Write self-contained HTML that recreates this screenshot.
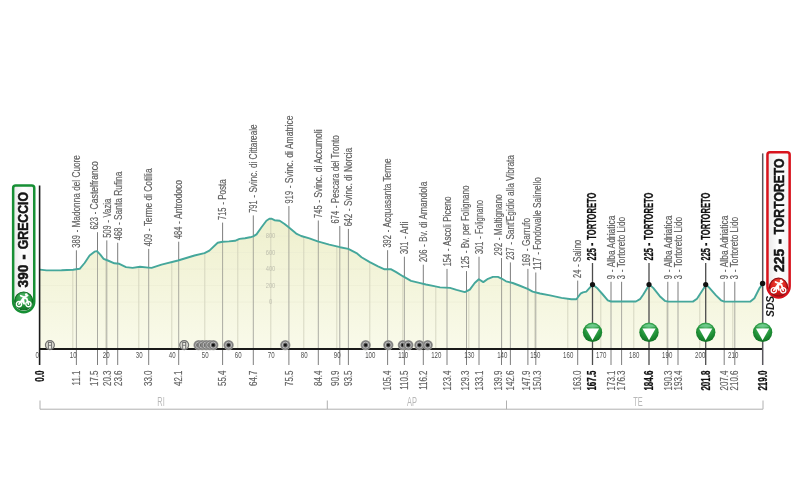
<!DOCTYPE html>
<html lang="it"><head><meta charset="utf-8"><title>Greccio - Tortoreto</title>
<style>html,body{margin:0;padding:0;background:#fff;}body{width:800px;height:484px;overflow:hidden;}svg{display:block;filter:blur(0.45px);}text{font-family:'Liberation Sans', Arial, Helvetica, sans-serif;}.lb{font-size:11px;fill:#606060;stroke:#606060;stroke-width:0.18px;}.lbb{font-size:12px;fill:#111;font-weight:bold;stroke:#111;stroke-width:0.3px;}.km{font-size:11px;fill:#626262;stroke:#626262;stroke-width:0.18px;}.kmb{font-size:12px;fill:#111;font-weight:bold;stroke:#111;stroke-width:0.25px;}.ax{font-size:9.5px;fill:#505050;}.el{font-size:6.6px;fill:#9e9e94;}.pv{font-size:12px;fill:#b9b9b9;}</style></head><body>
<svg width="800" height="484" viewBox="0 0 800 484">
<defs>
<radialGradient id="gG" cx="0.5" cy="0.3" r="0.75"><stop offset="0" stop-color="#5fc079"/><stop offset="0.6" stop-color="#1f9136"/><stop offset="1" stop-color="#0f6a22"/></radialGradient>
<radialGradient id="gR" cx="0.5" cy="0.3" r="0.75"><stop offset="0" stop-color="#f0503a"/><stop offset="0.6" stop-color="#d81a1a"/><stop offset="1" stop-color="#a80d10"/></radialGradient>
<radialGradient id="gT" cx="0.5" cy="0.5" r="0.5"><stop offset="0" stop-color="#333"/><stop offset="0.4" stop-color="#666"/><stop offset="0.75" stop-color="#7c7c7c"/><stop offset="1" stop-color="#9c9c96"/></radialGradient>
<linearGradient id="gBox" x1="0" y1="0" x2="1" y2="0"><stop offset="0" stop-color="#e9e9e9"/><stop offset="0.5" stop-color="#ffffff"/><stop offset="1" stop-color="#f2f2f2"/></linearGradient>
<linearGradient id="gF" gradientUnits="userSpaceOnUse" x1="0" y1="225" x2="0" y2="349"><stop offset="0" stop-color="#eff0cf"/><stop offset="1" stop-color="#f9faea"/></linearGradient>
</defs>
<rect width="800" height="484" fill="#ffffff"/>
<polygon points="40.0,269.6 46.6,270.4 61.5,270.2 73.0,269.7 79.7,268.8 84.6,263.0 89.6,255.5 94.5,251.7 97.0,251.1 100.3,254.7 103.6,258.8 107.8,260.5 114.4,263.3 119.3,263.8 126.0,267.1 132.6,267.9 140.0,266.8 148.3,267.6 151.6,267.9 161.5,264.6 178.0,260.5 194.5,255.5 204.5,253.1 209.4,250.6 217.7,242.8 222.6,241.8 229.0,241.4 235.0,240.8 239.5,238.9 245.0,238.2 250.0,237.3 253.2,236.4 256.5,234.4 261.5,227.3 266.4,220.7 269.4,218.8 271.4,218.7 274.5,220.2 279.7,220.7 284.6,224.0 289.6,228.1 296.2,233.6 301.2,236.0 309.4,238.3 317.7,241.3 329.3,244.6 340.0,247.2 348.3,248.9 356.5,253.1 361.5,257.2 369.8,262.1 378.0,266.3 384.6,269.3 391.2,269.3 396.2,272.1 402.8,276.2 411.0,280.8 419.3,282.8 426.0,284.5 434.2,286.1 440.0,287.4 450.0,287.9 456.5,289.9 464.8,292.1 469.8,289.6 474.7,283.0 478.8,279.2 483.3,282.1 488.0,278.8 492.9,276.9 497.9,276.9 502.0,278.8 506.0,281.3 512.7,283.0 519.3,285.5 527.6,288.8 532.6,291.6 540.0,293.5 550.0,295.4 561.5,297.9 571.4,299.2 576.4,299.2 580.5,293.7 583.0,292.4 586.3,291.6 589.6,287.9 592.7,284.6 597.0,287.9 602.8,294.5 607.8,300.3 611.0,301.5 635.9,301.5 640.0,299.2 643.3,294.5 649.4,284.6 653.2,287.9 659.8,296.2 664.8,300.8 668.1,301.6 692.9,301.6 697.0,298.7 706.2,284.6 709.4,287.9 716.0,295.4 721.0,300.3 724.3,301.6 750.4,301.6 754.4,298.3 759.7,287.8 763.0,283.6 763,349.0 40,349.0" fill="url(#gF)"/>
<clipPath id="cp"><polygon points="40.0,269.6 46.6,270.4 61.5,270.2 73.0,269.7 79.7,268.8 84.6,263.0 89.6,255.5 94.5,251.7 97.0,251.1 100.3,254.7 103.6,258.8 107.8,260.5 114.4,263.3 119.3,263.8 126.0,267.1 132.6,267.9 140.0,266.8 148.3,267.6 151.6,267.9 161.5,264.6 178.0,260.5 194.5,255.5 204.5,253.1 209.4,250.6 217.7,242.8 222.6,241.8 229.0,241.4 235.0,240.8 239.5,238.9 245.0,238.2 250.0,237.3 253.2,236.4 256.5,234.4 261.5,227.3 266.4,220.7 269.4,218.8 271.4,218.7 274.5,220.2 279.7,220.7 284.6,224.0 289.6,228.1 296.2,233.6 301.2,236.0 309.4,238.3 317.7,241.3 329.3,244.6 340.0,247.2 348.3,248.9 356.5,253.1 361.5,257.2 369.8,262.1 378.0,266.3 384.6,269.3 391.2,269.3 396.2,272.1 402.8,276.2 411.0,280.8 419.3,282.8 426.0,284.5 434.2,286.1 440.0,287.4 450.0,287.9 456.5,289.9 464.8,292.1 469.8,289.6 474.7,283.0 478.8,279.2 483.3,282.1 488.0,278.8 492.9,276.9 497.9,276.9 502.0,278.8 506.0,281.3 512.7,283.0 519.3,285.5 527.6,288.8 532.6,291.6 540.0,293.5 550.0,295.4 561.5,297.9 571.4,299.2 576.4,299.2 580.5,293.7 583.0,292.4 586.3,291.6 589.6,287.9 592.7,284.6 597.0,287.9 602.8,294.5 607.8,300.3 611.0,301.5 635.9,301.5 640.0,299.2 643.3,294.5 649.4,284.6 653.2,287.9 659.8,296.2 664.8,300.8 668.1,301.6 692.9,301.6 697.0,298.7 706.2,284.6 709.4,287.9 716.0,295.4 721.0,300.3 724.3,301.6 750.4,301.6 754.4,298.3 759.7,287.8 763.0,283.6 763,349.0 40,349.0"/></clipPath>
<g clip-path="url(#cp)" stroke="#e9ead0" stroke-width="0.8">
<line x1="40" x2="763" y1="302.0" y2="302.0"/>
<line x1="40" x2="763" y1="285.5" y2="285.5"/>
<line x1="40" x2="763" y1="269.0" y2="269.0"/>
<line x1="40" x2="763" y1="252.5" y2="252.5"/>
<line x1="40" x2="763" y1="236.0" y2="236.0"/>
</g>
<g clip-path="url(#cp)" stroke="#c3c3ae" stroke-width="1">
<line x1="72.8" x2="72.8" y1="200" y2="349.0"/>
<line x1="105.8" x2="105.8" y1="200" y2="349.0"/>
<line x1="138.8" x2="138.8" y1="200" y2="349.0"/>
<line x1="171.8" x2="171.8" y1="200" y2="349.0"/>
<line x1="204.8" x2="204.8" y1="200" y2="349.0"/>
<line x1="237.8" x2="237.8" y1="200" y2="349.0"/>
<line x1="270.8" x2="270.8" y1="200" y2="349.0"/>
<line x1="303.8" x2="303.8" y1="200" y2="349.0"/>
<line x1="336.8" x2="336.8" y1="200" y2="349.0"/>
<line x1="369.8" x2="369.8" y1="200" y2="349.0"/>
<line x1="402.8" x2="402.8" y1="200" y2="349.0"/>
<line x1="435.8" x2="435.8" y1="200" y2="349.0"/>
<line x1="468.8" x2="468.8" y1="200" y2="349.0"/>
<line x1="501.8" x2="501.8" y1="200" y2="349.0"/>
<line x1="534.8" x2="534.8" y1="200" y2="349.0"/>
<line x1="567.8" x2="567.8" y1="200" y2="349.0"/>
<line x1="600.8" x2="600.8" y1="200" y2="349.0"/>
<line x1="633.8" x2="633.8" y1="200" y2="349.0"/>
<line x1="666.8" x2="666.8" y1="200" y2="349.0"/>
<line x1="699.8" x2="699.8" y1="200" y2="349.0"/>
<line x1="732.8" x2="732.8" y1="200" y2="349.0"/>
</g>
<text class="el" text-anchor="middle" transform="translate(270.5 304.4) scale(0.88 1)">0</text>
<text class="el" text-anchor="middle" transform="translate(270.5 287.9) scale(0.88 1)">200</text>
<text class="el" text-anchor="middle" transform="translate(270.5 271.4) scale(0.88 1)">400</text>
<text class="el" text-anchor="middle" transform="translate(270.5 254.9) scale(0.88 1)">600</text>
<text class="el" text-anchor="middle" transform="translate(270.5 238.4) scale(0.88 1)">800</text>
<line x1="76.4" x2="76.4" y1="250.3" y2="365.0" stroke="#6e6e6e" stroke-width="0.9"/>
<line x1="97.5" x2="97.5" y1="232.2" y2="365.0" stroke="#6e6e6e" stroke-width="0.9"/>
<line x1="106.8" x2="106.8" y1="240.4" y2="365.0" stroke="#6e6e6e" stroke-width="0.9"/>
<line x1="117.7" x2="117.7" y1="242.8" y2="365.0" stroke="#6e6e6e" stroke-width="0.9"/>
<line x1="148.7" x2="148.7" y1="248.9" y2="365.0" stroke="#6e6e6e" stroke-width="0.9"/>
<line x1="178.7" x2="178.7" y1="241.7" y2="365.0" stroke="#6e6e6e" stroke-width="0.9"/>
<line x1="222.6" x2="222.6" y1="222.6" y2="365.0" stroke="#6e6e6e" stroke-width="0.9"/>
<line x1="253.3" x2="253.3" y1="215.4" y2="365.0" stroke="#6e6e6e" stroke-width="0.9"/>
<line x1="288.9" x2="288.9" y1="206.0" y2="365.0" stroke="#6e6e6e" stroke-width="0.9"/>
<line x1="318.3" x2="318.3" y1="220.5" y2="365.0" stroke="#6e6e6e" stroke-width="0.9"/>
<line x1="339.8" x2="339.8" y1="226.0" y2="365.0" stroke="#6e6e6e" stroke-width="0.9"/>
<line x1="348.4" x2="348.4" y1="228.9" y2="365.0" stroke="#6e6e6e" stroke-width="0.9"/>
<line x1="387.6" x2="387.6" y1="250.2" y2="365.0" stroke="#6e6e6e" stroke-width="0.9"/>
<line x1="404.4" x2="404.4" y1="256.7" y2="365.0" stroke="#6e6e6e" stroke-width="0.9"/>
<line x1="423.3" x2="423.3" y1="264.7" y2="365.0" stroke="#6e6e6e" stroke-width="0.9"/>
<line x1="447.0" x2="447.0" y1="268.9" y2="365.0" stroke="#6e6e6e" stroke-width="0.9"/>
<line x1="466.5" x2="466.5" y1="271.1" y2="365.0" stroke="#6e6e6e" stroke-width="0.9"/>
<line x1="479.0" x2="479.0" y1="256.7" y2="365.0" stroke="#6e6e6e" stroke-width="0.9"/>
<line x1="501.5" x2="501.5" y1="258.0" y2="365.0" stroke="#6e6e6e" stroke-width="0.9"/>
<line x1="510.4" x2="510.4" y1="262.4" y2="365.0" stroke="#6e6e6e" stroke-width="0.9"/>
<line x1="527.9" x2="527.9" y1="268.9" y2="365.0" stroke="#6e6e6e" stroke-width="0.9"/>
<line x1="535.8" x2="535.8" y1="272.5" y2="365.0" stroke="#6e6e6e" stroke-width="0.9"/>
<line x1="577.7" x2="577.7" y1="280.6" y2="365.0" stroke="#6e6e6e" stroke-width="0.9"/>
<line x1="611.0" x2="611.0" y1="281.8" y2="365.0" stroke="#6e6e6e" stroke-width="0.9"/>
<line x1="621.6" x2="621.6" y1="281.8" y2="365.0" stroke="#6e6e6e" stroke-width="0.9"/>
<line x1="667.8" x2="667.8" y1="281.8" y2="365.0" stroke="#6e6e6e" stroke-width="0.9"/>
<line x1="678.0" x2="678.0" y1="281.8" y2="365.0" stroke="#6e6e6e" stroke-width="0.9"/>
<line x1="724.2" x2="724.2" y1="281.8" y2="365.0" stroke="#6e6e6e" stroke-width="0.9"/>
<line x1="734.8" x2="734.8" y1="281.8" y2="365.0" stroke="#6e6e6e" stroke-width="0.9"/>
<polygon points="40.0,269.6 46.6,270.4 61.5,270.2 73.0,269.7 79.7,268.8 84.6,263.0 89.6,255.5 94.5,251.7 97.0,251.1 100.3,254.7 103.6,258.8 107.8,260.5 114.4,263.3 119.3,263.8 126.0,267.1 132.6,267.9 140.0,266.8 148.3,267.6 151.6,267.9 161.5,264.6 178.0,260.5 194.5,255.5 204.5,253.1 209.4,250.6 217.7,242.8 222.6,241.8 229.0,241.4 235.0,240.8 239.5,238.9 245.0,238.2 250.0,237.3 253.2,236.4 256.5,234.4 261.5,227.3 266.4,220.7 269.4,218.8 271.4,218.7 274.5,220.2 279.7,220.7 284.6,224.0 289.6,228.1 296.2,233.6 301.2,236.0 309.4,238.3 317.7,241.3 329.3,244.6 340.0,247.2 348.3,248.9 356.5,253.1 361.5,257.2 369.8,262.1 378.0,266.3 384.6,269.3 391.2,269.3 396.2,272.1 402.8,276.2 411.0,280.8 419.3,282.8 426.0,284.5 434.2,286.1 440.0,287.4 450.0,287.9 456.5,289.9 464.8,292.1 469.8,289.6 474.7,283.0 478.8,279.2 483.3,282.1 488.0,278.8 492.9,276.9 497.9,276.9 502.0,278.8 506.0,281.3 512.7,283.0 519.3,285.5 527.6,288.8 532.6,291.6 540.0,293.5 550.0,295.4 561.5,297.9 571.4,299.2 576.4,299.2 580.5,293.7 583.0,292.4 586.3,291.6 589.6,287.9 592.7,284.6 597.0,287.9 602.8,294.5 607.8,300.3 611.0,301.5 635.9,301.5 640.0,299.2 643.3,294.5 649.4,284.6 653.2,287.9 659.8,296.2 664.8,300.8 668.1,301.6 692.9,301.6 697.0,298.7 706.2,284.6 709.4,287.9 716.0,295.4 721.0,300.3 724.3,301.6 750.4,301.6 754.4,298.3 759.7,287.8 763.0,283.6 763,348.5 40,348.5" fill="url(#gF)" fill-opacity="0.38"/>
<line x1="592.5" x2="592.5" y1="263.0" y2="365.0" stroke="#4c4c4c" stroke-width="1.3"/>
<line x1="649.0" x2="649.0" y1="263.0" y2="365.0" stroke="#4c4c4c" stroke-width="1.3"/>
<line x1="705.7" x2="705.7" y1="263.0" y2="365.0" stroke="#4c4c4c" stroke-width="1.3"/>
<polyline points="40.0,269.6 46.6,270.4 61.5,270.2 73.0,269.7 79.7,268.8 84.6,263.0 89.6,255.5 94.5,251.7 97.0,251.1 100.3,254.7 103.6,258.8 107.8,260.5 114.4,263.3 119.3,263.8 126.0,267.1 132.6,267.9 140.0,266.8 148.3,267.6 151.6,267.9 161.5,264.6 178.0,260.5 194.5,255.5 204.5,253.1 209.4,250.6 217.7,242.8 222.6,241.8 229.0,241.4 235.0,240.8 239.5,238.9 245.0,238.2 250.0,237.3 253.2,236.4 256.5,234.4 261.5,227.3 266.4,220.7 269.4,218.8 271.4,218.7 274.5,220.2 279.7,220.7 284.6,224.0 289.6,228.1 296.2,233.6 301.2,236.0 309.4,238.3 317.7,241.3 329.3,244.6 340.0,247.2 348.3,248.9 356.5,253.1 361.5,257.2 369.8,262.1 378.0,266.3 384.6,269.3 391.2,269.3 396.2,272.1 402.8,276.2 411.0,280.8 419.3,282.8 426.0,284.5 434.2,286.1 440.0,287.4 450.0,287.9 456.5,289.9 464.8,292.1 469.8,289.6 474.7,283.0 478.8,279.2 483.3,282.1 488.0,278.8 492.9,276.9 497.9,276.9 502.0,278.8 506.0,281.3 512.7,283.0 519.3,285.5 527.6,288.8 532.6,291.6 540.0,293.5 550.0,295.4 561.5,297.9 571.4,299.2 576.4,299.2 580.5,293.7 583.0,292.4 586.3,291.6 589.6,287.9 592.7,284.6 597.0,287.9 602.8,294.5 607.8,300.3 611.0,301.5 635.9,301.5 640.0,299.2 643.3,294.5 649.4,284.6 653.2,287.9 659.8,296.2 664.8,300.8 668.1,301.6 692.9,301.6 697.0,298.7 706.2,284.6 709.4,287.9 716.0,295.4 721.0,300.3 724.3,301.6 750.4,301.6 754.4,298.3 759.7,287.8 763.0,283.6" fill="none" stroke="#45a79b" stroke-width="1.9" stroke-linejoin="round" stroke-linecap="round"/>
<line x1="39.2" x2="763" y1="349.0" y2="349.0" stroke="#1a1a1a" stroke-width="1.8"/>
<line x1="39.6" x2="39.6" y1="185.5" y2="365.0" stroke="#1a1a1a" stroke-width="1.6"/>
<line x1="762.7" x2="762.7" y1="153.4" y2="365.0" stroke="#58565c" stroke-width="1.5"/>
<g transform="translate(49.9,345.1)"><circle r="4.5" fill="#d4d4cc" stroke="#707070" stroke-width="1.1"/><rect x="-1.5" y="-2.6" width="3" height="6.6" fill="#eeeee6" stroke="#6a6a6a" stroke-width="0.9"/><line x1="-1.5" x2="1.5" y1="0.2" y2="0.2" stroke="#6a6a6a" stroke-width="0.8"/></g>
<g transform="translate(184.2,345.1)"><circle r="4.5" fill="#d4d4cc" stroke="#707070" stroke-width="1.1"/><rect x="-1.5" y="-2.6" width="3" height="6.6" fill="#eeeee6" stroke="#6a6a6a" stroke-width="0.9"/><line x1="-1.5" x2="1.5" y1="0.2" y2="0.2" stroke="#6a6a6a" stroke-width="0.8"/></g>
<g transform="translate(198.6,345.1)"><circle r="5.2" fill="url(#gT)"/><circle r="3" fill="none" stroke="#cfcfcf" stroke-width="0.8"/><rect x="-1.2" y="-1.2" width="2.4" height="2.4" fill="#101010"/></g>
<g transform="translate(202.4,345.1)"><circle r="5.2" fill="url(#gT)"/><circle r="3" fill="none" stroke="#cfcfcf" stroke-width="0.8"/><rect x="-1.2" y="-1.2" width="2.4" height="2.4" fill="#101010"/></g>
<g transform="translate(206.2,345.1)"><circle r="5.2" fill="url(#gT)"/><circle r="3" fill="none" stroke="#cfcfcf" stroke-width="0.8"/><rect x="-1.2" y="-1.2" width="2.4" height="2.4" fill="#101010"/></g>
<g transform="translate(209.8,345.1)"><circle r="5.2" fill="url(#gT)"/><circle r="3" fill="none" stroke="#cfcfcf" stroke-width="0.8"/><rect x="-1.2" y="-1.2" width="2.4" height="2.4" fill="#101010"/></g>
<g transform="translate(213.3,345.1)"><circle r="5.2" fill="url(#gT)"/><circle r="3" fill="none" stroke="#cfcfcf" stroke-width="0.8"/><rect x="-1.2" y="-1.2" width="2.4" height="2.4" fill="#101010"/></g>
<g transform="translate(228.6,345.1)"><circle r="5.2" fill="url(#gT)"/><circle r="3" fill="none" stroke="#cfcfcf" stroke-width="0.8"/><rect x="-1.2" y="-1.2" width="2.4" height="2.4" fill="#101010"/></g>
<g transform="translate(285.3,345.1)"><circle r="5.2" fill="url(#gT)"/><circle r="3" fill="none" stroke="#cfcfcf" stroke-width="0.8"/><rect x="-1.2" y="-1.2" width="2.4" height="2.4" fill="#101010"/></g>
<g transform="translate(365.7,345.1)"><circle r="5.2" fill="url(#gT)"/><circle r="3" fill="none" stroke="#cfcfcf" stroke-width="0.8"/><rect x="-1.2" y="-1.2" width="2.4" height="2.4" fill="#101010"/></g>
<g transform="translate(388.3,345.1)"><circle r="5.2" fill="url(#gT)"/><circle r="3" fill="none" stroke="#cfcfcf" stroke-width="0.8"/><rect x="-1.2" y="-1.2" width="2.4" height="2.4" fill="#101010"/></g>
<g transform="translate(402.9,345.1)"><circle r="5.2" fill="url(#gT)"/><circle r="3" fill="none" stroke="#cfcfcf" stroke-width="0.8"/><rect x="-1.2" y="-1.2" width="2.4" height="2.4" fill="#101010"/></g>
<g transform="translate(408.3,345.1)"><circle r="5.2" fill="url(#gT)"/><circle r="3" fill="none" stroke="#cfcfcf" stroke-width="0.8"/><rect x="-1.2" y="-1.2" width="2.4" height="2.4" fill="#101010"/></g>
<g transform="translate(419.4,345.1)"><circle r="5.2" fill="url(#gT)"/><circle r="3" fill="none" stroke="#cfcfcf" stroke-width="0.8"/><rect x="-1.2" y="-1.2" width="2.4" height="2.4" fill="#101010"/></g>
<g transform="translate(427.7,345.1)"><circle r="5.2" fill="url(#gT)"/><circle r="3" fill="none" stroke="#cfcfcf" stroke-width="0.8"/><rect x="-1.2" y="-1.2" width="2.4" height="2.4" fill="#101010"/></g>
<text class="ax" x="39" y="358.2" text-anchor="end" transform="translate(38.8 0) scale(0.64 1) translate(-38.8 0)">0</text>
<text class="ax" x="73.2" y="358.2" text-anchor="middle" transform="translate(73.2 0) scale(0.64 1) translate(-73.2 0)">10</text>
<text class="ax" x="106.2" y="358.2" text-anchor="middle" transform="translate(106.2 0) scale(0.64 1) translate(-106.2 0)">20</text>
<text class="ax" x="139.2" y="358.2" text-anchor="middle" transform="translate(139.2 0) scale(0.64 1) translate(-139.2 0)">30</text>
<text class="ax" x="172.2" y="358.2" text-anchor="middle" transform="translate(172.2 0) scale(0.64 1) translate(-172.2 0)">40</text>
<text class="ax" x="205.2" y="358.2" text-anchor="middle" transform="translate(205.2 0) scale(0.64 1) translate(-205.2 0)">50</text>
<text class="ax" x="238.2" y="358.2" text-anchor="middle" transform="translate(238.2 0) scale(0.64 1) translate(-238.2 0)">60</text>
<text class="ax" x="271.2" y="358.2" text-anchor="middle" transform="translate(271.2 0) scale(0.64 1) translate(-271.2 0)">70</text>
<text class="ax" x="304.2" y="358.2" text-anchor="middle" transform="translate(304.2 0) scale(0.64 1) translate(-304.2 0)">80</text>
<text class="ax" x="337.2" y="358.2" text-anchor="middle" transform="translate(337.2 0) scale(0.64 1) translate(-337.2 0)">90</text>
<text class="ax" x="370.2" y="358.2" text-anchor="middle" transform="translate(370.2 0) scale(0.64 1) translate(-370.2 0)">100</text>
<text class="ax" x="403.2" y="358.2" text-anchor="middle" transform="translate(403.2 0) scale(0.64 1) translate(-403.2 0)">110</text>
<text class="ax" x="436.2" y="358.2" text-anchor="middle" transform="translate(436.2 0) scale(0.64 1) translate(-436.2 0)">120</text>
<text class="ax" x="469.2" y="358.2" text-anchor="middle" transform="translate(469.2 0) scale(0.64 1) translate(-469.2 0)">130</text>
<text class="ax" x="502.2" y="358.2" text-anchor="middle" transform="translate(502.2 0) scale(0.64 1) translate(-502.2 0)">140</text>
<text class="ax" x="535.2" y="358.2" text-anchor="middle" transform="translate(535.2 0) scale(0.64 1) translate(-535.2 0)">150</text>
<text class="ax" x="568.2" y="358.2" text-anchor="middle" transform="translate(568.2 0) scale(0.64 1) translate(-568.2 0)">160</text>
<text class="ax" x="601.2" y="358.2" text-anchor="middle" transform="translate(601.2 0) scale(0.64 1) translate(-601.2 0)">170</text>
<text class="ax" x="634.2" y="358.2" text-anchor="middle" transform="translate(634.2 0) scale(0.64 1) translate(-634.2 0)">180</text>
<text class="ax" x="667.2" y="358.2" text-anchor="middle" transform="translate(667.2 0) scale(0.64 1) translate(-667.2 0)">190</text>
<text class="ax" x="700.2" y="358.2" text-anchor="middle" transform="translate(700.2 0) scale(0.64 1) translate(-700.2 0)">200</text>
<text class="ax" x="733.2" y="358.2" text-anchor="middle" transform="translate(733.2 0) scale(0.64 1) translate(-733.2 0)">210</text>
<text class="lb" transform="translate(79.7 247.7) rotate(-90)"><tspan x="0" textLength="12.5" lengthAdjust="spacingAndGlyphs">389</tspan> <tspan x="15.4" textLength="2.6" lengthAdjust="spacingAndGlyphs">-</tspan> <tspan x="20.2" textLength="72.4" lengthAdjust="spacingAndGlyphs">Madonna del Cuore</tspan></text>
<text class="lb" transform="translate(97.7 229.6) rotate(-90)"><tspan x="0" textLength="12.5" lengthAdjust="spacingAndGlyphs">623</tspan> <tspan x="15.4" textLength="2.6" lengthAdjust="spacingAndGlyphs">-</tspan> <tspan x="20.2" textLength="48.3" lengthAdjust="spacingAndGlyphs">Castelfranco</tspan></text>
<text class="lb" transform="translate(110.6 237.8) rotate(-90)"><tspan x="0" textLength="12.5" lengthAdjust="spacingAndGlyphs">509</tspan> <tspan x="15.4" textLength="2.6" lengthAdjust="spacingAndGlyphs">-</tspan> <tspan x="20.2" textLength="19.0" lengthAdjust="spacingAndGlyphs">Vazia</tspan></text>
<text class="lb" transform="translate(122.1 240.2) rotate(-90)"><tspan x="0" textLength="12.5" lengthAdjust="spacingAndGlyphs">468</tspan> <tspan x="15.4" textLength="2.6" lengthAdjust="spacingAndGlyphs">-</tspan> <tspan x="20.2" textLength="48.4" lengthAdjust="spacingAndGlyphs">Santa Rufina</tspan></text>
<text class="lb" transform="translate(152.3 246.3) rotate(-90)"><tspan x="0" textLength="12.5" lengthAdjust="spacingAndGlyphs">409</tspan> <tspan x="15.4" textLength="2.6" lengthAdjust="spacingAndGlyphs">-</tspan> <tspan x="20.2" textLength="57.7" lengthAdjust="spacingAndGlyphs">Terme di Cotilia</tspan></text>
<text class="lb" transform="translate(182.2 239.1) rotate(-90)"><tspan x="0" textLength="12.5" lengthAdjust="spacingAndGlyphs">484</tspan> <tspan x="15.4" textLength="2.6" lengthAdjust="spacingAndGlyphs">-</tspan> <tspan x="20.2" textLength="39.0" lengthAdjust="spacingAndGlyphs">Antrodoco</tspan></text>
<text class="lb" transform="translate(226.3 220.0) rotate(-90)"><tspan x="0" textLength="12.5" lengthAdjust="spacingAndGlyphs">715</tspan> <tspan x="15.4" textLength="2.6" lengthAdjust="spacingAndGlyphs">-</tspan> <tspan x="20.2" textLength="20.6" lengthAdjust="spacingAndGlyphs">Posta</tspan></text>
<text class="lb" transform="translate(257.0 212.8) rotate(-90)"><tspan x="0" textLength="12.5" lengthAdjust="spacingAndGlyphs">791</tspan> <tspan x="15.4" textLength="2.6" lengthAdjust="spacingAndGlyphs">-</tspan> <tspan x="20.2" textLength="68.2" lengthAdjust="spacingAndGlyphs">Svinc. di Cittareale</tspan></text>
<text class="lb" transform="translate(292.7 203.4) rotate(-90)"><tspan x="0" textLength="12.5" lengthAdjust="spacingAndGlyphs">919</tspan> <tspan x="15.4" textLength="2.6" lengthAdjust="spacingAndGlyphs">-</tspan> <tspan x="20.2" textLength="67.7" lengthAdjust="spacingAndGlyphs">Svinc. di Amatrice</tspan></text>
<text class="lb" transform="translate(322.0 217.9) rotate(-90)"><tspan x="0" textLength="12.5" lengthAdjust="spacingAndGlyphs">745</tspan> <tspan x="15.4" textLength="2.6" lengthAdjust="spacingAndGlyphs">-</tspan> <tspan x="20.2" textLength="68.3" lengthAdjust="spacingAndGlyphs">Svinc. di Accumoli</tspan></text>
<text class="lb" transform="translate(339.4 223.4) rotate(-90)"><tspan x="0" textLength="12.5" lengthAdjust="spacingAndGlyphs">674</tspan> <tspan x="15.4" textLength="2.6" lengthAdjust="spacingAndGlyphs">-</tspan> <tspan x="20.2" textLength="67.9" lengthAdjust="spacingAndGlyphs">Pescara del Tronto</tspan></text>
<text class="lb" transform="translate(352.1 226.3) rotate(-90)"><tspan x="0" textLength="12.5" lengthAdjust="spacingAndGlyphs">642</tspan> <tspan x="15.4" textLength="2.6" lengthAdjust="spacingAndGlyphs">-</tspan> <tspan x="20.2" textLength="58.2" lengthAdjust="spacingAndGlyphs">Svinc. di Norcia</tspan></text>
<text class="lb" transform="translate(391.3 247.6) rotate(-90)"><tspan x="0" textLength="12.5" lengthAdjust="spacingAndGlyphs">392</tspan> <tspan x="15.4" textLength="2.6" lengthAdjust="spacingAndGlyphs">-</tspan> <tspan x="20.2" textLength="68.9" lengthAdjust="spacingAndGlyphs">Acquasanta Terme</tspan></text>
<text class="lb" transform="translate(408.1 254.1) rotate(-90)"><tspan x="0" textLength="12.5" lengthAdjust="spacingAndGlyphs">301</tspan> <tspan x="15.4" textLength="2.6" lengthAdjust="spacingAndGlyphs">-</tspan> <tspan x="20.2" textLength="12.3" lengthAdjust="spacingAndGlyphs">Arli</tspan></text>
<text class="lb" transform="translate(426.9 262.1) rotate(-90)"><tspan x="0" textLength="12.5" lengthAdjust="spacingAndGlyphs">206</tspan> <tspan x="15.4" textLength="2.6" lengthAdjust="spacingAndGlyphs">-</tspan> <tspan x="20.2" textLength="60.3" lengthAdjust="spacingAndGlyphs">Bv. di Amandola</tspan></text>
<text class="lb" transform="translate(450.6 266.3) rotate(-90)"><tspan x="0" textLength="12.5" lengthAdjust="spacingAndGlyphs">154</tspan> <tspan x="15.4" textLength="2.6" lengthAdjust="spacingAndGlyphs">-</tspan> <tspan x="20.2" textLength="49.6" lengthAdjust="spacingAndGlyphs">Ascoli Piceno</tspan></text>
<text class="lb" transform="translate(469.1 268.5) rotate(-90)"><tspan x="0" textLength="12.5" lengthAdjust="spacingAndGlyphs">125</tspan> <tspan x="15.4" textLength="2.6" lengthAdjust="spacingAndGlyphs">-</tspan> <tspan x="20.2" textLength="62.7" lengthAdjust="spacingAndGlyphs">Bv. per Folignano</tspan></text>
<text class="lb" transform="translate(483.0 254.1) rotate(-90)"><tspan x="0" textLength="12.5" lengthAdjust="spacingAndGlyphs">301</tspan> <tspan x="15.4" textLength="2.6" lengthAdjust="spacingAndGlyphs">-</tspan> <tspan x="20.2" textLength="34.1" lengthAdjust="spacingAndGlyphs">Folignano</tspan></text>
<text class="lb" transform="translate(501.7 255.4) rotate(-90)"><tspan x="0" textLength="12.5" lengthAdjust="spacingAndGlyphs">292</tspan> <tspan x="15.4" textLength="2.6" lengthAdjust="spacingAndGlyphs">-</tspan> <tspan x="20.2" textLength="41.0" lengthAdjust="spacingAndGlyphs">Maltignano</tspan></text>
<text class="lb" transform="translate(513.7 259.8) rotate(-90)"><tspan x="0" textLength="12.5" lengthAdjust="spacingAndGlyphs">237</tspan> <tspan x="15.4" textLength="2.6" lengthAdjust="spacingAndGlyphs">-</tspan> <tspan x="20.2" textLength="84.5" lengthAdjust="spacingAndGlyphs">Sant'Egidio alla Vibrata</tspan></text>
<text class="lb" transform="translate(529.9 266.3) rotate(-90)"><tspan x="0" textLength="12.5" lengthAdjust="spacingAndGlyphs">169</tspan> <tspan x="15.4" textLength="2.6" lengthAdjust="spacingAndGlyphs">-</tspan> <tspan x="20.2" textLength="28.1" lengthAdjust="spacingAndGlyphs">Garrufo</tspan></text>
<text class="lb" transform="translate(541.2 269.9) rotate(-90)"><tspan x="0" textLength="12.5" lengthAdjust="spacingAndGlyphs">117</tspan> <tspan x="15.4" textLength="2.6" lengthAdjust="spacingAndGlyphs">-</tspan> <tspan x="20.2" textLength="72.4" lengthAdjust="spacingAndGlyphs">Fondovalle Salinello</tspan></text>
<text class="lb" transform="translate(581.3 278.0) rotate(-90)"><tspan x="0" textLength="8.3" lengthAdjust="spacingAndGlyphs">24</tspan> <tspan x="11.2" textLength="2.6" lengthAdjust="spacingAndGlyphs">-</tspan> <tspan x="16.1" textLength="22.2" lengthAdjust="spacingAndGlyphs">Salino</tspan></text>
<text class="lbb" transform="translate(596.4 260.4) rotate(-90)"><tspan x="0" textLength="12.3" lengthAdjust="spacingAndGlyphs">225</tspan> <tspan x="14.3" textLength="3.3" lengthAdjust="spacingAndGlyphs">-</tspan> <tspan x="20.7" textLength="47.1" lengthAdjust="spacingAndGlyphs">TORTORETO</tspan></text>
<text class="lb" transform="translate(615.0 279.2) rotate(-90)"><tspan x="0" textLength="4.2" lengthAdjust="spacingAndGlyphs">9</tspan> <tspan x="7.1" textLength="2.6" lengthAdjust="spacingAndGlyphs">-</tspan> <tspan x="11.9" textLength="51.7" lengthAdjust="spacingAndGlyphs">Alba Adriatica</tspan></text>
<text class="lb" transform="translate(625.2 279.2) rotate(-90)"><tspan x="0" textLength="4.2" lengthAdjust="spacingAndGlyphs">3</tspan> <tspan x="7.1" textLength="2.6" lengthAdjust="spacingAndGlyphs">-</tspan> <tspan x="11.9" textLength="50.4" lengthAdjust="spacingAndGlyphs">Tortoreto Lido</tspan></text>
<text class="lbb" transform="translate(653.1 260.4) rotate(-90)"><tspan x="0" textLength="12.3" lengthAdjust="spacingAndGlyphs">225</tspan> <tspan x="14.3" textLength="3.3" lengthAdjust="spacingAndGlyphs">-</tspan> <tspan x="20.7" textLength="47.1" lengthAdjust="spacingAndGlyphs">TORTORETO</tspan></text>
<text class="lb" transform="translate(671.7 279.2) rotate(-90)"><tspan x="0" textLength="4.2" lengthAdjust="spacingAndGlyphs">9</tspan> <tspan x="7.1" textLength="2.6" lengthAdjust="spacingAndGlyphs">-</tspan> <tspan x="11.9" textLength="51.7" lengthAdjust="spacingAndGlyphs">Alba Adriatica</tspan></text>
<text class="lb" transform="translate(681.7 279.2) rotate(-90)"><tspan x="0" textLength="4.2" lengthAdjust="spacingAndGlyphs">3</tspan> <tspan x="7.1" textLength="2.6" lengthAdjust="spacingAndGlyphs">-</tspan> <tspan x="11.9" textLength="50.4" lengthAdjust="spacingAndGlyphs">Tortoreto Lido</tspan></text>
<text class="lbb" transform="translate(709.7 260.4) rotate(-90)"><tspan x="0" textLength="12.3" lengthAdjust="spacingAndGlyphs">225</tspan> <tspan x="14.3" textLength="3.3" lengthAdjust="spacingAndGlyphs">-</tspan> <tspan x="20.7" textLength="47.1" lengthAdjust="spacingAndGlyphs">TORTORETO</tspan></text>
<text class="lb" transform="translate(727.9 279.2) rotate(-90)"><tspan x="0" textLength="4.2" lengthAdjust="spacingAndGlyphs">9</tspan> <tspan x="7.1" textLength="2.6" lengthAdjust="spacingAndGlyphs">-</tspan> <tspan x="11.9" textLength="51.7" lengthAdjust="spacingAndGlyphs">Alba Adriatica</tspan></text>
<text class="lb" transform="translate(737.9 279.2) rotate(-90)"><tspan x="0" textLength="4.2" lengthAdjust="spacingAndGlyphs">3</tspan> <tspan x="7.1" textLength="2.6" lengthAdjust="spacingAndGlyphs">-</tspan> <tspan x="11.9" textLength="50.4" lengthAdjust="spacingAndGlyphs">Tortoreto Lido</tspan></text>
<text class="kmb" text-anchor="end" transform="translate(44.1 370.5) rotate(-90) scale(0.670 1)">0.0</text>
<text class="km" text-anchor="end" transform="translate(79.7 370.5) rotate(-90) scale(0.725 1)">11.1</text>
<text class="km" text-anchor="end" transform="translate(97.7 370.5) rotate(-90) scale(0.725 1)">17.5</text>
<text class="km" text-anchor="end" transform="translate(110.6 370.5) rotate(-90) scale(0.725 1)">20.3</text>
<text class="km" text-anchor="end" transform="translate(122.1 370.5) rotate(-90) scale(0.725 1)">23.6</text>
<text class="km" text-anchor="end" transform="translate(152.3 370.5) rotate(-90) scale(0.725 1)">33.0</text>
<text class="km" text-anchor="end" transform="translate(182.2 370.5) rotate(-90) scale(0.725 1)">42.1</text>
<text class="km" text-anchor="end" transform="translate(226.3 370.5) rotate(-90) scale(0.725 1)">55.4</text>
<text class="km" text-anchor="end" transform="translate(257.0 370.5) rotate(-90) scale(0.725 1)">64.7</text>
<text class="km" text-anchor="end" transform="translate(292.7 370.5) rotate(-90) scale(0.725 1)">75.5</text>
<text class="km" text-anchor="end" transform="translate(322.0 370.5) rotate(-90) scale(0.725 1)">84.4</text>
<text class="km" text-anchor="end" transform="translate(339.4 370.5) rotate(-90) scale(0.725 1)">90.9</text>
<text class="km" text-anchor="end" transform="translate(352.1 370.5) rotate(-90) scale(0.725 1)">93.5</text>
<text class="km" text-anchor="end" transform="translate(391.3 370.5) rotate(-90) scale(0.725 1)">105.4</text>
<text class="km" text-anchor="end" transform="translate(408.1 370.5) rotate(-90) scale(0.725 1)">110.5</text>
<text class="km" text-anchor="end" transform="translate(426.9 370.5) rotate(-90) scale(0.725 1)">116.2</text>
<text class="km" text-anchor="end" transform="translate(450.6 370.5) rotate(-90) scale(0.725 1)">123.4</text>
<text class="km" text-anchor="end" transform="translate(469.1 370.5) rotate(-90) scale(0.725 1)">129.3</text>
<text class="km" text-anchor="end" transform="translate(483.0 370.5) rotate(-90) scale(0.725 1)">133.1</text>
<text class="km" text-anchor="end" transform="translate(501.7 370.5) rotate(-90) scale(0.725 1)">139.9</text>
<text class="km" text-anchor="end" transform="translate(513.7 370.5) rotate(-90) scale(0.725 1)">142.6</text>
<text class="km" text-anchor="end" transform="translate(529.9 370.5) rotate(-90) scale(0.725 1)">147.9</text>
<text class="km" text-anchor="end" transform="translate(541.2 370.5) rotate(-90) scale(0.725 1)">150.3</text>
<text class="km" text-anchor="end" transform="translate(581.3 370.5) rotate(-90) scale(0.725 1)">163.0</text>
<text class="kmb" text-anchor="end" transform="translate(596.4 370.5) rotate(-90) scale(0.670 1)">167.5</text>
<text class="km" text-anchor="end" transform="translate(615.0 370.5) rotate(-90) scale(0.725 1)">173.1</text>
<text class="km" text-anchor="end" transform="translate(625.2 370.5) rotate(-90) scale(0.725 1)">176.3</text>
<text class="kmb" text-anchor="end" transform="translate(653.1 370.5) rotate(-90) scale(0.670 1)">184.6</text>
<text class="km" text-anchor="end" transform="translate(671.7 370.5) rotate(-90) scale(0.725 1)">190.3</text>
<text class="km" text-anchor="end" transform="translate(681.7 370.5) rotate(-90) scale(0.725 1)">193.4</text>
<text class="kmb" text-anchor="end" transform="translate(709.7 370.5) rotate(-90) scale(0.670 1)">201.8</text>
<text class="km" text-anchor="end" transform="translate(727.9 370.5) rotate(-90) scale(0.725 1)">207.4</text>
<text class="km" text-anchor="end" transform="translate(737.9 370.5) rotate(-90) scale(0.725 1)">210.6</text>
<text class="kmb" text-anchor="end" transform="translate(766.8 370.5) rotate(-90) scale(0.670 1)">219.0</text>
<circle cx="592.5" cy="284.6" r="2.6" fill="#111"/>
<circle cx="649.0" cy="284.6" r="2.6" fill="#111"/>
<circle cx="705.7" cy="284.6" r="2.6" fill="#111"/>
<circle cx="762.6" cy="283.4" r="2.7" fill="#111"/>
<g transform="translate(592.5,332.3)"><circle r="9.7" fill="url(#gG)"/><path d="M-6.6,-3.9 L6.6,-3.9 L0,8 Z" fill="#ffffff"/><path d="M-6.5,-5.6 A 9 9 0 0 1 6.5,-5.6 Z" fill="#7fd6a0" opacity="0.7"/></g>
<g transform="translate(649.0,332.3)"><circle r="9.7" fill="url(#gG)"/><path d="M-6.6,-3.9 L6.6,-3.9 L0,8 Z" fill="#ffffff"/><path d="M-6.5,-5.6 A 9 9 0 0 1 6.5,-5.6 Z" fill="#7fd6a0" opacity="0.7"/></g>
<g transform="translate(705.7,332.3)"><circle r="9.7" fill="url(#gG)"/><path d="M-6.6,-3.9 L6.6,-3.9 L0,8 Z" fill="#ffffff"/><path d="M-6.5,-5.6 A 9 9 0 0 1 6.5,-5.6 Z" fill="#7fd6a0" opacity="0.7"/></g>
<g transform="translate(762.6,332.3)"><circle r="9.7" fill="url(#gG)"/><path d="M-6.6,-3.9 L6.6,-3.9 L0,8 Z" fill="#ffffff"/><path d="M-6.5,-5.6 A 9 9 0 0 1 6.5,-5.6 Z" fill="#7fd6a0" opacity="0.7"/></g>
<g fill="none" stroke="#b0b0b0" stroke-width="1">
<polyline points="40,400.5 40,409.2 763,409.2 763,400.5"/>
<line x1="327.3" x2="327.3" y1="400.5" y2="409.2"/>
<line x1="506.5" x2="506.5" y1="400.5" y2="409.2"/>
</g>
<text class="pv" text-anchor="middle" transform="translate(161.0 406.2) scale(0.62 1)">RI</text>
<text class="pv" text-anchor="middle" transform="translate(412.0 406.2) scale(0.62 1)">AP</text>
<text class="pv" text-anchor="middle" transform="translate(638.0 406.2) scale(0.62 1)">TE</text>
<path d="M13.15,188.05 Q13.15,185.55 15.65,185.55 L31.75,185.55 Q34.25,185.55 34.25,188.05 L34.25,301.60 A10.55,10.55 0 0 1 13.15,301.60 Z" fill="url(#gBox)" stroke="#168f34" stroke-width="2.5"/>
<circle cx="23.7" cy="301.0" r="9.0" fill="url(#gG)" stroke="#0c6a20" stroke-width="1.2"/>
<g transform="translate(23.7,301.0) scale(1.15)" fill="none" stroke="#fff" stroke-linecap="round" stroke-linejoin="round"><circle cx="-4.1" cy="2.7" r="2.3" stroke-width="1.2"/><circle cx="4.1" cy="2.7" r="2.3" stroke-width="1.2"/><path d="M-4.1,2.7 L-0.6,-2.2 L2.6,-2.2 L4.1,2.7 M-0.6,-2.2 L0.4,2.4 L-1.6,-0.4 M-2.6,-4.6 L0.4,-3.2 L3.4,-4.8" stroke-width="1.5"/><circle cx="2.2" cy="-5.6" r="1.1" fill="#fff" stroke="none"/></g>
<text transform="translate(28.1 287.4) rotate(-90) scale(0.911 1)" style="font-size:15px;font-weight:bold;fill:#151515;stroke:#151515;stroke-width:0.55px">390</text>
<text transform="translate(28.1 259.2) rotate(-90) scale(0.920 1)" style="font-size:15px;font-weight:bold;fill:#151515;stroke:#151515;stroke-width:1.1px">-</text>
<text transform="translate(28.1 249.2) rotate(-90) scale(0.817 1)" style="font-size:15px;font-weight:bold;fill:#151515;stroke:#151515;stroke-width:0.5px">GRECCIO</text>
<path d="M767.45,154.85 Q767.45,152.35 769.95,152.35 L787.15,152.35 Q789.65,152.35 789.65,154.85 L789.65,286.35 A11.10,11.10 0 0 1 767.45,286.35 Z" fill="url(#gBox)" stroke="#d8121c" stroke-width="2.5"/>
<circle cx="778.5" cy="287.2" r="9.0" fill="url(#gR)" stroke="#8f0c10" stroke-width="1.2"/>
<g transform="translate(778.5,287.2) scale(1.15)" fill="none" stroke="#fff" stroke-linecap="round" stroke-linejoin="round"><circle cx="-4.1" cy="2.7" r="2.3" stroke-width="1.2"/><circle cx="4.1" cy="2.7" r="2.3" stroke-width="1.2"/><path d="M-4.1,2.7 L-0.6,-2.2 L2.6,-2.2 L4.1,2.7 M-0.6,-2.2 L0.4,2.4 L-1.6,-0.4 M-2.6,-4.6 L0.4,-3.2 L3.4,-4.8" stroke-width="1.5"/><circle cx="2.2" cy="-5.6" r="1.1" fill="#fff" stroke="none"/></g>
<text transform="translate(784.0 272.0) rotate(-90) scale(0.927 1)" style="font-size:15px;font-weight:bold;fill:#151515;stroke:#151515;stroke-width:0.55px">225</text>
<text transform="translate(784.0 243.8) rotate(-90) scale(0.920 1)" style="font-size:15px;font-weight:bold;fill:#151515;stroke:#151515;stroke-width:1.1px">-</text>
<text transform="translate(784.0 234.4) rotate(-90) scale(0.815 1)" style="font-size:15px;font-weight:bold;fill:#151515;stroke:#151515;stroke-width:0.5px">TORTORETO</text>
<text transform="translate(773.8 317.0) rotate(-90) scale(0.9 1)" style="font-size:11.5px;font-weight:bold;font-style:italic;fill:#1c1c1c">SDS</text>
</svg>
</body></html>
